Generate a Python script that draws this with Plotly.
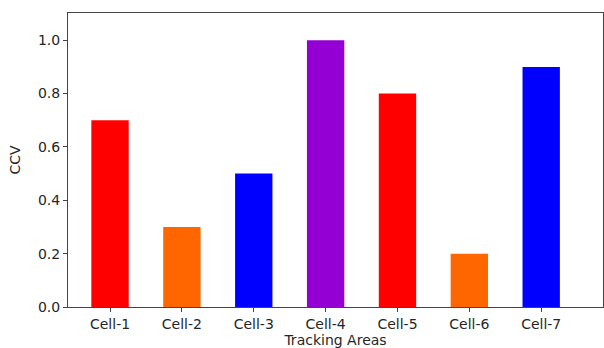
import plotly.graph_objects as go

categories = ["Cell-1", "Cell-2", "Cell-3", "Cell-4", "Cell-5", "Cell-6", "Cell-7"]
ccv = [0.7, 0.3, 0.5, 1.0, 0.8, 0.2, 0.9]
colors = ["#FF0000", "#FF6600", "#0000FF", "#9400D3", "#FF0000", "#FF6600", "#0000FF"]
yticks = [0.0, 0.2, 0.4, 0.6, 0.8, 1.0]

fig = go.Figure(go.Bar(
    x=list(range(len(categories))), y=ccv, marker_color=colors,
    marker_line_width=0, width=0.52,
))
fig.update_layout(
    width=604, height=348,
    margin=dict(l=68, r=1, t=13, b=41),
    plot_bgcolor="white", paper_bgcolor="white",
    font=dict(family="DejaVu Sans", size=14, color="#262626"),
    showlegend=False,
)
fig.update_xaxes(
    tickmode="array", tickvals=list(range(len(categories))), ticktext=categories,
    range=[-0.585, 6.86], showgrid=False, zeroline=False,
    showline=True, linecolor="#444444", linewidth=1, mirror=True,
    ticks="outside", ticklen=4, tickcolor="#444444",
    title=dict(text="Tracking Areas", standoff=4, font=dict(size=14)),
    automargin=False,
)
fig.update_yaxes(
    tickmode="array", tickvals=yticks, ticktext=[f"{v:.1f}" for v in yticks],
    range=[0, 1.102], showgrid=False, zeroline=False,
    showline=True, linecolor="#444444", linewidth=1, mirror=True,
    ticks="outside", ticklen=4, tickcolor="#444444",
    title=dict(text="CCV", standoff=14, font=dict(size=14)),
    automargin=False,
)
fig.write_html("out.html", config={"displayModeBar": False})

with open("out.html", "r", encoding="utf-8") as f:
    html = f.read()
html = html.replace("<head>", "<head><style>html,body{margin:0;padding:0;overflow:hidden;}</style>", 1)
with open("out.html", "w", encoding="utf-8") as f:
    f.write(html)
